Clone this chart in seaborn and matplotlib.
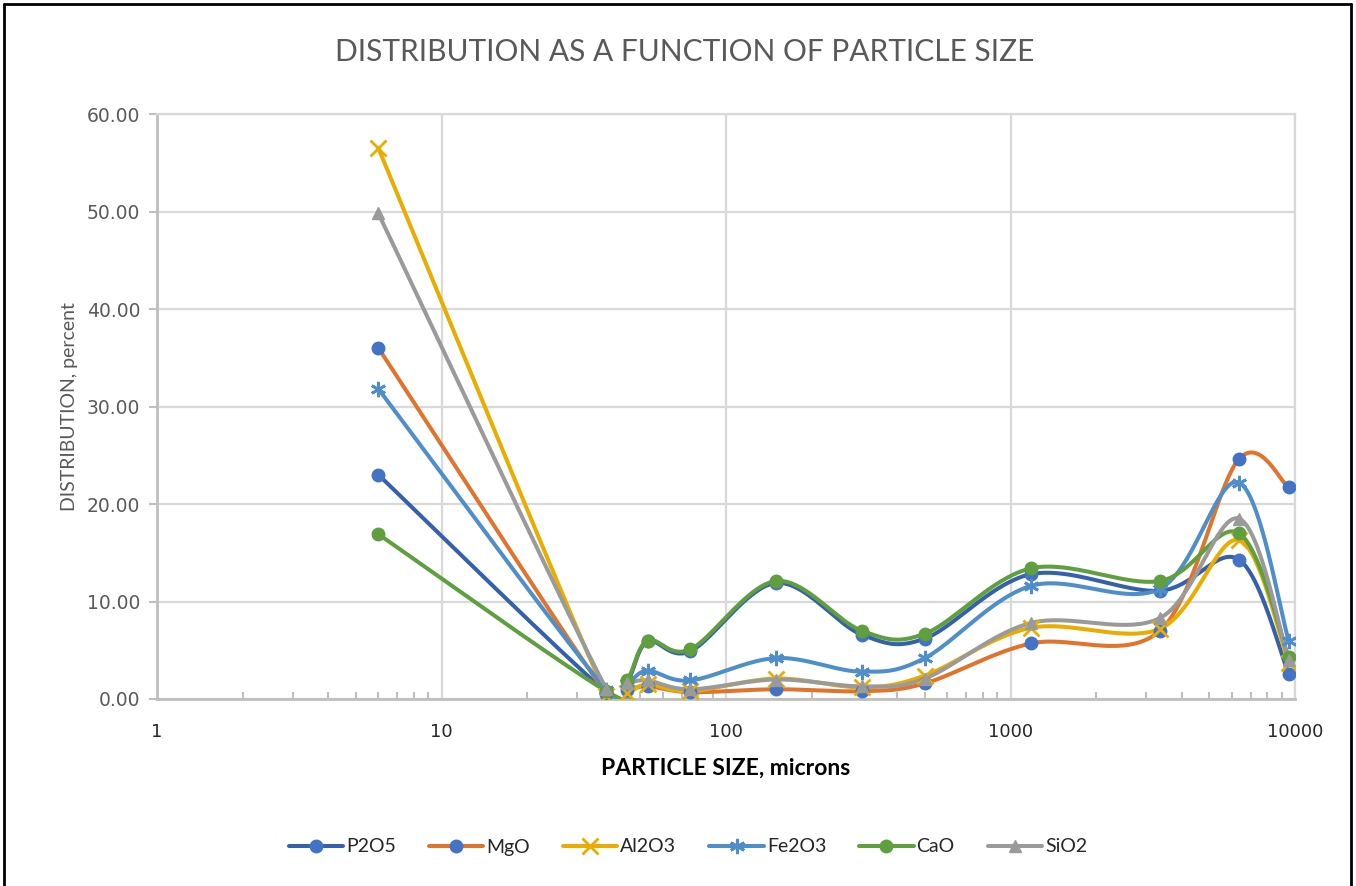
import numpy as np
import pandas as pd
import matplotlib
matplotlib.use("Agg")
import matplotlib.pyplot as plt
import seaborn as sns
from matplotlib.lines import Line2D
from matplotlib.ticker import FixedLocator, NullFormatter

# ---------------- data ----------------
particle_size = [6, 38, 45, 53, 75, 150, 300, 500, 1180, 3350, 6350, 9500]
P2O5 = [23.0, 0.7, 1.8, 5.9, 4.9, 11.9, 6.6, 6.2, 12.8, 11.1, 14.3, 2.6]
MgO = [36.0, 0.5, 0.9, 1.3, 0.7, 1.0, 0.8, 1.6, 5.7, 7.0, 24.6, 21.7]
Al2O3 = [56.5, 0.3, 0.6, 1.5, 0.8, 2.1, 1.2, 2.4, 7.3, 7.2, 16.3, 3.7]
Fe2O3 = [31.8, 0.9, 1.6, 2.9, 1.9, 4.2, 2.8, 4.2, 11.6, 11.3, 22.2, 6.0]
CaO = [16.9, 0.8, 2.0, 6.0, 5.1, 12.1, 7.0, 6.7, 13.4, 12.1, 17.0, 4.3]
SiO2 = [49.8, 1.0, 1.6, 1.9, 1.0, 2.0, 1.3, 2.1, 7.8, 8.3, 18.5, 4.0]

series_names = ["P2O5", "MgO", "Al2O3", "Fe2O3", "CaO", "SiO2"]
series_values = [P2O5, MgO, Al2O3, Fe2O3, CaO, SiO2]
x_ticks = [1, 10, 100, 1000, 10000]
x_tick_labels = ["1", "10", "100", "1000", "10000"]
y_ticks = [0, 10, 20, 30, 40, 50, 60]

# ---------------- styles ----------------
line_colors = ["#3560AC", "#E0742C", "#E8AD00", "#4E8FCB", "#5F9F3E", "#9A9A9A"]
marker_face = ["#4472C4", "#4472C4", "#E8AD00", "#4E8FCB", "#5F9F3E", "#9A9A9A"]
markers = ["o", "o", "x", (6, 2, 0), "o", "^"]

sns.set_theme(style="white")
plt.rcParams["font.family"] = ["Lato", "DejaVu Sans"]

fig = plt.figure(figsize=(13.56, 8.86), dpi=100)
ax = fig.add_axes([157 / 1356, 1 - 699 / 886, (1295 - 157) / 1356, (699 - 114) / 886])


def excel_smooth(xs, ys, n=40):
    """Bezier smoothing (Excel-like) computed in log-x space."""
    P = np.column_stack([np.log10(xs), ys]).astype(float)
    m = len(P)
    out = []
    for i in range(m - 1):
        p0 = P[max(i - 1, 0)]
        p1 = P[i]
        p2 = P[i + 1]
        p3 = P[min(i + 2, m - 1)]
        c1 = p1 + (p2 - p0) / 6.0
        c2 = p2 - (p3 - p1) / 6.0
        t = np.linspace(0, 1, n)[:, None]
        seg = ((1 - t) ** 3) * p1 + 3 * ((1 - t) ** 2) * t * c1 + 3 * (1 - t) * t ** 2 * c2 + t ** 3 * p2
        if i > 0:
            seg = seg[1:]
        out.append(seg)
    out = np.vstack(out)
    return 10 ** out[:, 0], out[:, 1]


for name, vals, lc, mf, mk in zip(series_names, series_values, line_colors, marker_face, markers):
    sx, sy = excel_smooth(particle_size, vals)
    df = pd.DataFrame({"x": sx, "y": sy})
    sns.lineplot(data=df, x="x", y="y", sort=False, estimator=None, ax=ax,
                 color=lc, linewidth=2.9, zorder=3)
    if mk == "x" or mk == (6, 2, 0):
        ax.plot(particle_size, vals, linestyle="none", marker=mk, markersize=11,
                markeredgewidth=2.0, color=mf, zorder=4)
    else:
        ax.plot(particle_size, vals, linestyle="none", marker=mk, markersize=9,
                markerfacecolor=mf, markeredgecolor=mf, zorder=4)

ax.set_xscale("log")
ax.set_xlim(1, 10000)
ax.set_ylim(0, 60)
ax.xaxis.set_major_locator(FixedLocator(x_ticks))
ax.set_xticklabels(x_tick_labels)
ax.xaxis.set_minor_locator(FixedLocator([d * k for d in [1, 10, 100, 1000] for k in range(2, 10)]))
ax.xaxis.set_minor_formatter(NullFormatter())
ax.set_yticks(y_ticks)
ax.set_yticklabels([f"{v:.2f}" for v in y_ticks])

ax.grid(True, which="major", color="#D9D9D9", linewidth=1.6)
ax.set_axisbelow(True)
for s in ["top", "right"]:
    ax.spines[s].set_color("#D9D9D9")
    ax.spines[s].set_linewidth(1.6)
for s in ["left", "bottom"]:
    ax.spines[s].set_color("#BFBFBF")
    ax.spines[s].set_linewidth(2.0)

ax.tick_params(axis="y", which="major", direction="out", length=6, width=1.5,
               color="#BFBFBF", labelsize=13.5, labelcolor="#595959", pad=6, left=True,
               labelfontfamily="DejaVu Sans")
ax.tick_params(axis="x", which="major", length=0, labelsize=13, labelcolor="#262626", pad=17,
               labelfontfamily="DejaVu Sans")
ax.tick_params(axis="x", which="minor", direction="in", length=5, width=1.5,
               color="#BFBFBF", bottom=True)

ax.set_xlabel("PARTICLE SIZE, microns", fontsize=16.5, fontweight="bold", color="black", labelpad=12)
ax.set_ylabel("DISTRIBUTION, percent", fontsize=14, color="#595959", labelpad=6)

fig.text(685 / 1356, 1 - 52 / 886, "DISTRIBUTION AS A FUNCTION OF PARTICLE SIZE",
         ha="center", va="center", fontsize=21.5, color="#595959")

handles = []
for lc, mf, mk in zip(line_colors, marker_face, markers):
    if mk == "x" or mk == (6, 2, 0):
        h = Line2D([], [], color=lc, linewidth=2.9, marker=mk, markersize=11,
                   markeredgewidth=2.0, markeredgecolor=mf)
    else:
        h = Line2D([], [], color=lc, linewidth=2.9, marker=mk, markersize=9,
                   markerfacecolor=mf, markeredgecolor=mf)
    handles.append(h)
fig.legend(handles, series_names, loc="center", bbox_to_anchor=(688 / 1356, 1 - 847 / 886),
           ncol=6, frameon=False, fontsize=14, handlelength=2.8, handletextpad=0.15,
           columnspacing=1.7, labelcolor="#262626")

# chart frame border
for coords in [([4 / 1356, 4 / 1356], [0, 1 - 4 / 886]),
               ([4 / 1356, 1351 / 1356], [1 - 4 / 886, 1 - 4 / 886]),
               ([1351 / 1356, 1351 / 1356], [0, 1 - 4 / 886])]:
    fig.add_artist(Line2D(coords[0], coords[1], color="black", linewidth=2.0,
                          transform=fig.transFigure))

fig.savefig("out.png", dpi=100)
